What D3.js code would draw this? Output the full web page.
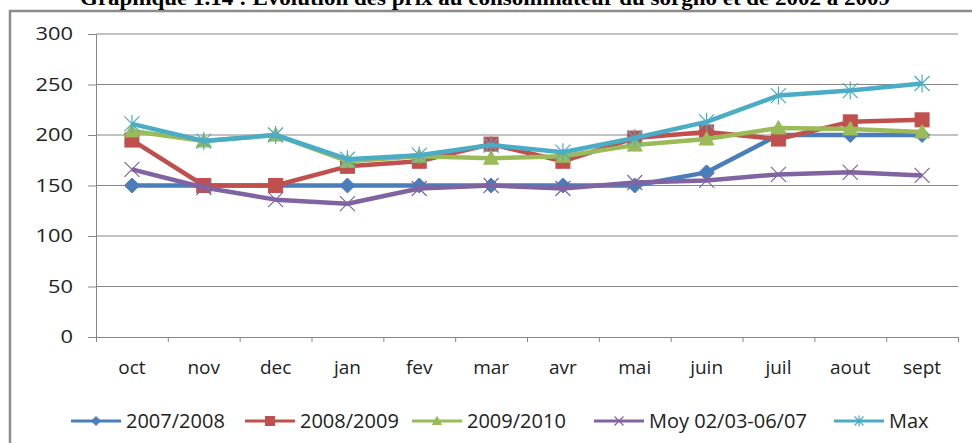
<!DOCTYPE html>
<html><head><meta charset="utf-8">
<script src="https://cdn.jsdelivr.net/npm/d3@7"></script>
<style>
html,body{margin:0;padding:0;background:#fff;}
svg{display:block;}
</style></head>
<body>
<svg id="chart" width="972" height="443"></svg>
<script>
const months = ["oct","nov","dec","jan","fev","mar","avr","mai","juin","juil","aout","sept"];
const s2007 = [150,150,150,150,150,150,150,150,163,200,200,200];
const s2008 = [195,150,150,169,174,191,174,197,203,196,213,215];
const s2009 = [204,194,200,174,179,177,179,190,196,207,206,203];
const sMoy  = [166,148,136,132,147,150,147,153,155,161,163,160];
const sMax  = [211,194,200,176,180,190,183,197,213,239,244,251];
const seriesNames = ["2007/2008","2008/2009","2009/2010","Moy 02/03-06/07","Max"];
const yTicks = [0,50,100,150,200,250,300];
const titleText = "Graphique  1.14 : Evolution des prix au consommateur du sorgho et  de 2002 à 2009";

const series = [
  {name: seriesNames[0], values: s2007, color: "#4A7EBB", marker: "diamond"},
  {name: seriesNames[1], values: s2008, color: "#C0504D", marker: "square"},
  {name: seriesNames[2], values: s2009, color: "#9BBB59", marker: "triangle"},
  {name: seriesNames[3], values: sMoy,  color: "#8064A2", marker: "x"},
  {name: seriesNames[4], values: sMax,  color: "#4BACC6", marker: "star"}
];

const svg = d3.select("#chart");
const L = 96, R = 958, T = 34, B = 337;
const font = "'Open Sans', sans-serif";

// frame
svg.append("rect").attr("x",10).attr("y",11).attr("width",1000).attr("height",500)
  .attr("fill","none").attr("stroke","#8c8c8c").attr("stroke-width",2.5);

// title (clipped at top, as in the reference)
svg.append("text").attr("x",485).attr("y",5).attr("text-anchor","middle")
  .attr("font-family","'Liberation Serif', 'Times New Roman', serif").attr("font-weight","bold")
  .attr("font-size",20).attr("textLength",810).attr("lengthAdjust","spacingAndGlyphs")
  .attr("fill","#000").text(titleText);

const x = d3.scaleBand().domain(months).range([L,R]);
const xb = d3.scaleLinear().domain([0,12]).range([L,R]);
const y = d3.scaleLinear().domain([0,300]).range([B,T]);

// gridlines
svg.append("g").selectAll("line").data(yTicks.filter(d=>d>0)).join("line")
  .attr("x1",L).attr("x2",R).attr("y1",d=>y(d)).attr("y2",d=>y(d))
  .attr("stroke","#868686").attr("stroke-width",1);

// y axis
const gy = svg.append("g").attr("transform",`translate(${L},0)`)
  .call(d3.axisLeft(y).tickValues(yTicks).tickSize(8).tickPadding(15));
gy.select(".domain").attr("stroke","#868686");
gy.selectAll(".tick line").attr("stroke","#868686");
gy.selectAll("text").attr("font-family",font).attr("font-size",18).attr("fill","#222")
  .attr("textLength",d=>String(d).length*12.5).attr("lengthAdjust","spacingAndGlyphs");

// x axis tick marks
const gxb = svg.append("g").attr("transform",`translate(0,${B})`)
  .call(d3.axisBottom(xb).ticks(12).tickSize(5).tickFormat(""));
gxb.select(".domain").attr("stroke","#868686");
gxb.selectAll(".tick line").attr("stroke","#868686");

// x axis labels
const gx = svg.append("g").attr("transform",`translate(0,${B})`)
  .call(d3.axisBottom(x).tickSize(0).tickPadding(24));
gx.select(".domain").remove();
gx.selectAll("text").attr("font-family",font).attr("font-size",19).attr("fill","#222");

// markers
function drawMarker(g, type, color, s) {
  if (type==="diamond") {
    g.append("path").attr("d",`M0,${-s}L${s},0L0,${s}L${-s},0Z`).attr("fill",color).attr("stroke",color).attr("stroke-width",1);
  } else if (type==="square") {
    g.append("rect").attr("x",-s).attr("y",-s).attr("width",2*s).attr("height",2*s).attr("fill",color).attr("stroke",color);
  } else if (type==="triangle") {
    g.append("path").attr("d",`M0,${-s}L${s},${s*0.8}L${-s},${s*0.8}Z`).attr("fill",color).attr("stroke",color);
  } else if (type==="x") {
    g.append("path").attr("d",`M${-s},${-s}L${s},${s}M${-s},${s}L${s},${-s}`).attr("stroke",color).attr("stroke-width",1.2).attr("fill","none");
  } else if (type==="star") {
    g.append("path").attr("d",`M${-s},${-s}L${s},${s}M${-s},${s}L${s},${-s}M0,${-s*1.2}L0,${s*1.2}`).attr("stroke",color).attr("stroke-width",1.2).attr("fill","none");
  }
}

const line = d3.line().x((d,i)=>x(months[i])+x.bandwidth()/2).y(d=>y(d));
series.forEach(sr => {
  const g = svg.append("g");
  g.append("path").datum(sr.values).attr("d",line).attr("fill","none")
    .attr("stroke",sr.color).attr("stroke-width",4.5).attr("stroke-linejoin","round");
  sr.values.forEach((v,i) => {
    const m = g.append("g").attr("transform",`translate(${x(months[i])+x.bandwidth()/2},${y(v)})`);
    drawMarker(m, sr.marker, sr.color, sr.marker==="square"?7:7.5);
  });
});

// legend
const legX = [71, 245, 412, 594, 834];
const legY = 421;
series.forEach((sr,i) => {
  const g = svg.append("g").attr("transform",`translate(${legX[i]},${legY})`);
  g.append("line").attr("x1",0).attr("x2",50).attr("y1",0).attr("y2",0)
    .attr("stroke",sr.color).attr("stroke-width",3);
  const m = g.append("g").attr("transform","translate(25,0)");
  drawMarker(m, sr.marker, sr.color, 4.5);
  g.append("text").attr("x",55).attr("y",7).attr("font-family",font).attr("font-size",20)
    .attr("fill","#222").text(sr.name);
});
</script>
</body></html>
